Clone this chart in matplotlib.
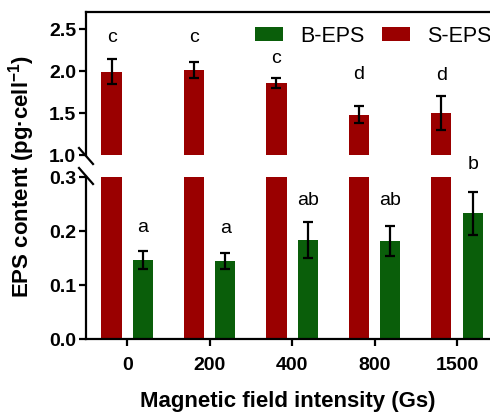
import matplotlib
matplotlib.use('Agg')
import matplotlib.pyplot as plt
import numpy as np

plt.rcParams['font.family'] = ['Liberation Sans', 'DejaVu Sans']
plt.rcParams['mathtext.fontset'] = 'custom'
plt.rcParams['mathtext.bf'] = 'Liberation Sans:bold'
plt.rcParams['mathtext.rm'] = 'Liberation Sans'

# data
fields = ['0', '200', '400', '800', '1500']
s_eps = [1.99, 2.01, 1.86, 1.48, 1.50]
s_err = [0.15, 0.10, 0.06, 0.10, 0.20]
s_letters = ['c', 'c', 'c', 'd', 'd']
b_eps = [0.146, 0.144, 0.183, 0.181, 0.233]
b_err = [0.017, 0.015, 0.033, 0.028, 0.040]
b_letters = ['a', 'a', 'ab', 'ab', 'b']

RED = '#9a0000'
GREEN = '#0a5e0a'
W, H = 490, 414

fig = plt.figure(figsize=(4.9, 4.14), dpi=100)

def px_rect(left, top, right, bottom):
    return [left / W, 1 - bottom / H, (right - left) / W, (bottom - top) / H]

ax_top = fig.add_axes(px_rect(86, 13, 490, 156))
ax_bot = fig.add_axes(px_rect(86, 178, 490, 340))

x = np.arange(len(fields))
off, bw = 0.19, 0.245

for ax in (ax_top, ax_bot):
    ax.bar(x - off, s_eps, bw, color=RED, label='S-EPS', zorder=2)
    ax.bar(x + off, b_eps, bw, color=GREEN, label='B-EPS', zorder=2)
    ax.set_xlim(-0.5, 4.4)
    ax.spines['right'].set_visible(False)
    for s in ax.spines.values():
        s.set_linewidth(1.6)
    ax.tick_params(axis='y', direction='out', length=5, width=1.6, labelsize=14, pad=2)

ax_top.errorbar(x - off, s_eps, yerr=s_err, fmt='none', ecolor='black',
                elinewidth=1.6, capsize=3.8, capthick=1.6, zorder=3)
ax_bot.errorbar(x + off, b_eps, yerr=b_err, fmt='none', ecolor='black',
                elinewidth=1.6, capsize=3.8, capthick=1.6, zorder=3)

ax_top.set_ylim(1.0, 2.7)
ax_top.set_yticks([1.0, 1.5, 2.0, 2.5])
ax_top.set_yticklabels(['1.0', '1.5', '2.0', '2.5'], fontweight='bold')
ax_top.spines['bottom'].set_visible(False)
ax_top.set_xticks([])

ax_bot.set_ylim(0, 0.3)
ax_bot.set_yticks([0.0, 0.1, 0.2, 0.3])
ax_bot.set_yticklabels(['0.0', '0.1', '0.2', '0.3'], fontweight='bold')
ax_bot.spines['top'].set_visible(False)
ax_bot.set_xticks(x)
ax_bot.set_xticklabels(fields, fontweight='bold')
ax_bot.tick_params(axis='x', direction='out', length=5, width=1.6, labelsize=14, pad=7)
ax_bot.set_xlabel('Magnetic field intensity (Gs)', fontsize=16, fontweight='bold', labelpad=12.5)

# significance letters (offset in px above error bar)
s_off = [23, 25, 20, 33, 22]
b_off = [24, 26, 23, 27, 28]
for i in range(len(fields)):
    ax_top.annotate(s_letters[i], (x[i] - off, s_eps[i] + s_err[i]),
                    xytext=(0, s_off[i] * 0.72), textcoords='offset points',
                    ha='center', va='center', fontsize=14, annotation_clip=False)
    ax_bot.annotate(b_letters[i], (x[i] + off, b_eps[i] + b_err[i]),
                    xytext=(0, b_off[i] * 0.72), textcoords='offset points',
                    ha='center', va='center', fontsize=14, annotation_clip=False)

# axis break marks
for cy in (157, 177):
    fig.add_artist(plt.Line2D([79 / W, 93 / W], [1 - (cy - 8) / H, 1 - (cy + 8) / H],
                              color='black', lw=1.6))

fig.text(22 / W, 1 - 176 / H, r'EPS content (pg·cell$^{\mathbf{-1}}$)',
         rotation=90, ha='center', va='center', fontsize=16, fontweight='bold')

handles, labels = ax_top.get_legend_handles_labels()
ax_top.legend(handles[::-1], labels[::-1], ncol=2, frameon=False, fontsize=15.5,
              loc='center left', bbox_to_anchor=(255 / W, 1 - 37 / H),
              bbox_transform=fig.transFigure, handlelength=1.3, handleheight=0.65,
              handletextpad=0.8, columnspacing=0.8, borderaxespad=0, borderpad=0)

fig.savefig('out.png', dpi=100)
